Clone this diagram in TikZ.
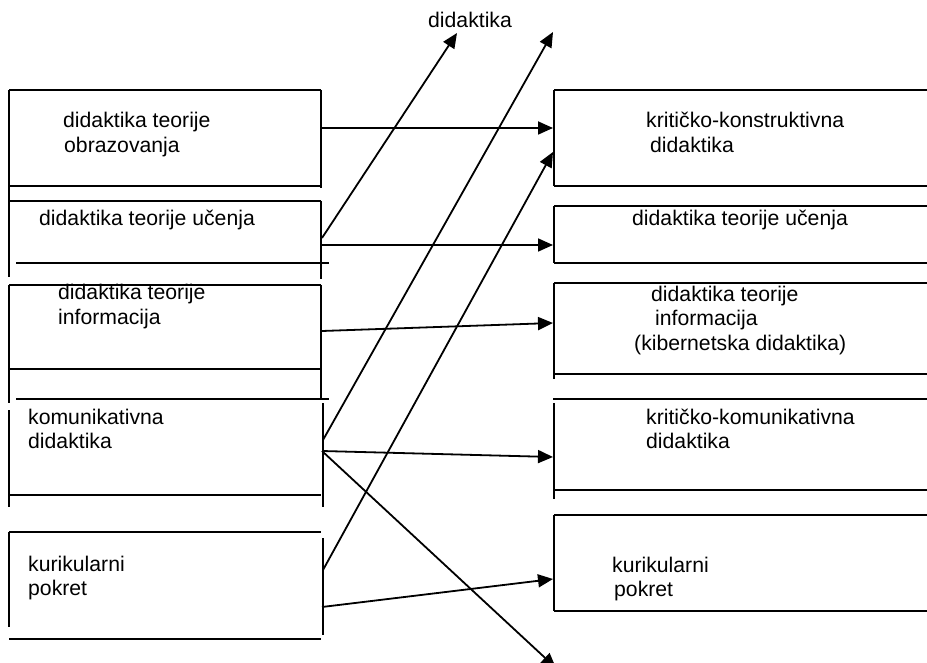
\documentclass[tikz,border=0pt]{standalone}
\usepackage{fontspec}
\setmainfont{Liberation Sans}
\usetikzlibrary{arrows.meta}
\begin{document}
\begin{tikzpicture}[x=1pt,y=-1pt,
  boxline/.style={line width=2pt},
  conn/.style={line width=1.8pt,-{Triangle[length=15pt,width=13pt]}},
  txt/.style={inner sep=0pt,anchor=base west,align=left,font=\fontsize{21.2}{24.4}\selectfont}]
\clip (0,0) rectangle (927,663);
\fill[white] (0,0) rectangle (927,663);
% ---------- left column frames ----------
\draw[boxline] (9,90) -- (321,90);
\draw[boxline] (9,186) -- (321,186);
\draw[boxline] (9,90) -- (9,277);
\draw[boxline] (321,90) -- (321,188);
\draw[boxline] (9,201) -- (321,201);
\draw[boxline] (321,201) -- (321,279);
\draw[boxline] (16,263) -- (329,263);
\draw[boxline] (9,285) -- (321,285);
\draw[boxline] (9,369) -- (321,369);
\draw[boxline] (9,285) -- (9,403);
\draw[boxline] (321,285) -- (321,400);
\draw[boxline] (16,399) -- (329,399);
\draw[boxline] (9,410) -- (9,507);
\draw[boxline] (323,403) -- (323,507);
\draw[boxline] (9,495) -- (321,495);
\draw[boxline] (9,532) -- (321,532);
\draw[boxline] (9,532) -- (9,627);
\draw[boxline] (323,538) -- (323,635);
\draw[boxline] (9,639) -- (321,639);
% ---------- right column frames ----------
\draw[boxline] (554,90) -- (927,90);
\draw[boxline] (554,186) -- (927,186);
\draw[boxline] (554,90) -- (554,186);
\draw[boxline] (554,206) -- (927,206);
\draw[boxline] (554,263) -- (927,263);
\draw[boxline] (554,206) -- (554,263);
\draw[boxline] (554,283) -- (927,283);
\draw[boxline] (554,374) -- (927,374);
\draw[boxline] (554,283) -- (554,379);
\draw[boxline] (553,399) -- (927,399);
\draw[boxline] (554,490) -- (927,490);
\draw[boxline] (554,403) -- (554,499);
\draw[boxline] (554,515) -- (927,515);
\draw[boxline] (554,611) -- (927,611);
\draw[boxline] (554,515) -- (554,611);
% ---------- texts (anchor = baseline of last line) ----------
\node[txt] (top) at (428,28) {didaktika};
\node[txt] (l1) at (63,152.4) {didaktika teorije\\\hspace*{1pt}obrazovanja};
\node[txt] (l2) at (39,226) {didaktika teorije učenja};
\node[txt] (l3) at (58,324.4) {didaktika teorije\\informacija};
\node[txt] (l4) at (28,448.4) {komunikativna\\didaktika};
\node[txt] (l5) at (28,595.4) {kurikularni\\pokret};
\node[txt] (r1) at (646,152.4) {kritičko-konstruktivna\\\hspace*{4pt}didaktika};
\node[txt] (r2) at (632,226) {didaktika teorije učenja};
\node[txt] (r3) at (634,350) {\hspace*{17pt}didaktika teorije\\\hspace*{21pt}informacija\\(kibernetska didaktika)};
\node[txt] (r4) at (646,448.4) {kritičko-komunikativna\\didaktika};
\node[txt] (r5) at (612,596.4) {kurikularni\\\hspace*{2pt}pokret};
% ---------- connector end points ----------
\coordinate (L1o) at (321,128);
\coordinate (L2a) at (322,238);
\coordinate (L2b) at (322,245);
\coordinate (L3o) at (322,331);
\coordinate (L4a) at (323,440);
\coordinate (L4b) at (322,451);
\coordinate (L5a) at (323,570);
\coordinate (L5b) at (322,607);
\coordinate (R1a) at (553,128);
\coordinate (R1b) at (553,152);
\coordinate (R2i) at (553,245);
\coordinate (R3i) at (553,323);
\coordinate (R4i) at (553,457);
\coordinate (R5i) at (553,579);
\coordinate (T1) at (457,33);
\coordinate (T2) at (553,32);
\coordinate (B1) at (556,668);
% ---------- connectors ----------
\draw[conn] (L1o) -- (R1a);
\draw[conn] (L2a) -- (T1);
\draw[conn] (L2b) -- (R2i);
\draw[conn] (L3o) -- (R3i);
\draw[conn] (L4a) -- (T2);
\draw[conn] (L4b) -- (R4i);
\draw[conn] (L4b) -- (B1);
\draw[conn] (L5a) -- (R1b);
\draw[conn] (L5b) -- (R5i);
\end{tikzpicture}
\end{document}
